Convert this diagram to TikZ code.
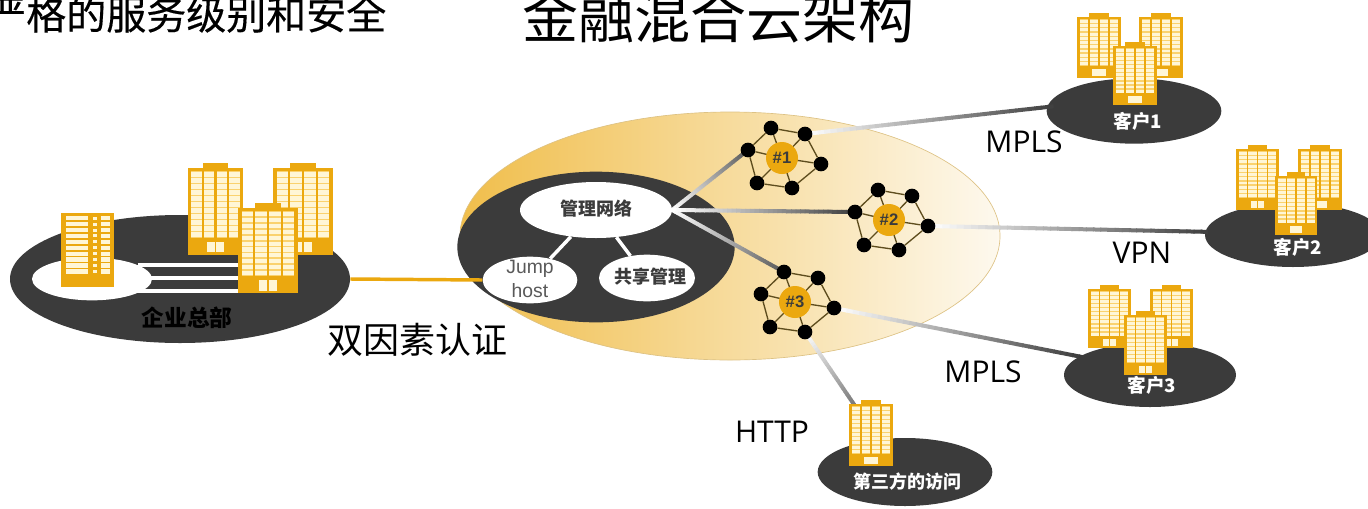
\documentclass[tikz,border=0pt]{standalone}
\usepackage{fontspec}
\setmainfont{Noto Sans CJK SC}
\newfontfamily\heavycjk[FakeBold=0.35]{Noto Sans CJK SC}
\newfontfamily\latinfont{Open Sans}
\newfontfamily\arialfont{Liberation Sans}
\usetikzlibrary{shapes.geometric,calc}

\definecolor{bldgorange}{HTML}{EBA80F}
\definecolor{bldgwindow}{HTML}{FFF6D6}
\definecolor{bldggrout}{HTML}{FAD26E}
\definecolor{discdark}{HTML}{3B3B3B}
\definecolor{spokecolor}{HTML}{5E4D1E}

\pgfdeclarelayer{front}
\pgfsetlayers{main,front}

\tikzset{
  disc/.style={ellipse,fill=discdark,inner sep=0pt},
  whitedisc/.style={ellipse,fill=white,inner sep=0pt},
  hubdot/.style={circle,fill=black,inner sep=0pt,minimum size=11pt},
  hubcore/.style={circle,fill=bldgorange,inner sep=0pt,minimum size=24pt,font=\arialfont\bfseries\fontsize{12.5}{14}\selectfont,text=discdark},
  spoke/.style={draw=spokecolor,line width=1pt},
  darklabel/.style={font=\bfseries\fontsize{13.5}{16}\selectfont,text=discdark},
  sitelabel/.style={font=\bfseries\fontsize{14}{16}\selectfont,text=white},
  bigcjk/.style={font=\fontsize{27}{32}\selectfont},
  proto/.style={font=\latinfont\fontsize{22.5}{26}\selectfont},
}

% fading connector between two named points
\newcommand\fadeline[5]{
  \foreach \i in {0,...,39}{
    \pgfmathsetmacro\ta{\i/40}
    \pgfmathsetmacro\tb{(\i+1.15)/40}
    \pgfmathsetmacro\pct{100-\i*100/39}
    \draw[line width=#5,color=#3!\pct!#4] ($(#1)!\ta!(#2)$) -- ($(#1)!\tb!(#2)$);
  }
}

% office tower, drawn in a 100x100 box
\newcommand\tower[4]{
  \begin{scope}[shift={(#1,#2)},x=#3*0.0075pt,y=#4*0.0075pt]
    \fill[bldgorange] (0,0) rectangle (100,100);
    \fill[bldgorange] (28,-6) rectangle (72,0);
    \foreach \c in {0,1,2,3}{
      \fill[bldggrout] (6+\c*23,4) rectangle (25+\c*23,80);
      \foreach \r in {0,...,10}{
        \fill[bldgwindow] (6+\c*23,5+\r*6.9) rectangle (25+\c*23,9.8+\r*6.9);
      }
    }
    \fill[bldgwindow] (35,85) rectangle (49,97);
    \fill[bldgwindow] (51,85) rectangle (65,97);
  \end{scope}
}

% the plain tower on the left of the head office
\newcommand\slabtower[4]{
  \begin{scope}[shift={(#1,#2)},x=#3*0.0075pt,y=#4*0.0075pt]
    \fill[bldgorange] (0,0) rectangle (100,100);
    \foreach \r in {0,...,9}{
      \fill[bldgwindow] (9,4+\r*8) rectangle (50,10+\r*8);
      \fill[bldgwindow] (60,5+\r*8) rectangle (68,9+\r*8);
      \fill[bldgwindow] (75,4+\r*8) rectangle (92,10+\r*8);
    }
  \end{scope}
}

% ring of six dots round a numbered core
\newcommand\hubnet[4]{
  \begin{scope}[shift={(#2,#3)}]
    \coordinate (#1c) at (0,0);
    \node[hubdot] (#1a) at (-11,-30) {};
    \node[hubdot] (#1b) at (23,-24) {};
    \node[hubdot] (#1d) at (39,6) {};
    \node[hubdot] (#1e) at (10,30) {};
    \node[hubdot] (#1f) at (-25,25) {};
    \node[hubdot] (#1g) at (-34,-8) {};
    \foreach \p/\q in {a/b,b/d,d/e,e/f,f/g,g/a}{
      \draw[spoke] (#1\p) -- (#1\q);
    }
    \foreach \p in {a,b,d,e,f,g}{
      \draw[spoke] (#1c) -- (#1\p);
    }
    \node[hubcore] (#1) at (0,0) {#4};
  \end{scope}
}

\begin{document}
\begin{tikzpicture}[x=0.75pt,y=0.75pt,yscale=-1,xscale=1]
\useasboundingbox (0,0) rectangle (1368,508);

% Big cloud
\node[ellipse,inner sep=0pt,minimum width=405pt,minimum height=186pt,draw=bldgorange!45!white!90!black,line width=0.5pt,
  left color=bldgorange!75,middle color=bldgorange!38,right color=bldgorange!7] (cloud) at (730,236) {};
\node[disc,minimum width=208pt,minimum height=113pt] (mgmtzone) at (596,247) {};

% Sites
\node[disc,minimum width=255pt,minimum height=96pt] (hq) at (180,279) {};
\node[disc,minimum width=131pt,minimum height=49pt] (site1) at (1134,111) {};
\node[disc,minimum width=132pt,minimum height=48pt] (site2) at (1293,235) {};
\node[disc,minimum width=129pt,minimum height=48pt] (site3) at (1150,375) {};
\node[disc,minimum width=131pt,minimum height=51pt] (guest) at (905,472) {};
\coordinate (site1port) at (1060,105.6);
\coordinate (site2port) at (1215,232);
\coordinate (site3port) at (1085,357.6);

% Head office court
\node[whitedisc,minimum width=90pt,minimum height=32pt] (court) at (92,279) {};
\coordinate (barstart) at (138,278);
\coordinate (barend) at (245,278);
\foreach \yy in {-13,0,13}{
  \draw[white,line width=3.4pt] ($(barstart)+(0,\yy)$) -- ($(barend)+(0,\yy)$);
}

% Management ovals
\node[whitedisc,minimum width=114pt,minimum height=42pt] (mgmt) at (596,210) {};
\node[whitedisc,minimum width=71pt,minimum height=35pt] (jump) at (530,280) {};
\node[whitedisc,minimum width=72pt,minimum height=35pt] (share) at (647,278) {};
\draw[white,line width=2.6pt] (mgmt) -- (jump);
\draw[white,line width=2.6pt] (mgmt) -- (share);

% Hubs
\begin{pgfonlayer}{front}
\hubnet{hubone}{782}{158}{\#1}
\hubnet{hubtwo}{889}{220}{\#2}
\hubnet{hubthree}{795}{302}{\#3}
\end{pgfonlayer}

% Connectors
\draw[bldgorange,line width=2.6pt] (hq.east) -- (jump.west);
\fadeline{mgmt.east}{huboneg}{white}{black!65}{3pt}
\fadeline{mgmt.east}{hubtwog}{white}{black!75}{3pt}
\fadeline{mgmt.east}{hubthreea}{white}{black!65}{3pt}
\fadeline{huboneb}{site1port}{white}{discdark}{3pt}
\fadeline{hubtwod}{site2port}{white}{discdark}{3pt}
\fadeline{hubthreed}{site3port}{white}{discdark}{3pt}
\fadeline{hubthreee}{guest.130}{white}{discdark}{3pt}

% Towers
\tower{188}{168}{55}{87}
\tower{273}{168}{60}{87}
\tower{238}{208}{60}{85}
\slabtower{61}{213}{53}{74}
\tower{1077}{17}{44}{61}
\tower{1139}{17}{44}{61}
\tower{1113}{46}{44}{59}
\tower{1236}{149}{43}{61}
\tower{1298}{149}{44}{61}
\tower{1275}{176}{42}{59}
\tower{1088}{289}{43}{59}
\tower{1150}{289}{43}{59}
\tower{1124}{315}{43}{60}
\tower{849}{404}{44}{62}

% Text Node
\node[font=\fontsize{42}{48}\selectfont] (title) at (718,17) {金融混合云架构};
\node[anchor=east,font=\heavycjk\fontsize{30}{36}\selectfont] (subtitle) at (391,14) {严格的服务级别和安全};
\node[bigcjk] (twofactor) at (417,340) {双因素认证};
\node[proto] (mplsone) at (1024,142) {MPLS};
\node[proto] (vpn) at (1142,253) {VPN};
\node[proto] (mplstwo) at (983,372) {MPLS};
\node[proto] (http) at (772,432) {HTTP};
% Text Node
\node[darklabel] (mgmttext) at (596,209) {管理网络};
\node[darklabel] (sharetext) at (650,277) {共享管理};
\node[font=\arialfont\fontsize{14.5}{16}\selectfont,text=black!65] (jumptext) at (530,269) {Jump};
\node[font=\arialfont\fontsize{14.5}{16}\selectfont,text=black!65] (hosttext) at (530,291) {host};
\node[font=\bfseries\fontsize{17}{20}\selectfont] (hqtext) at (187,318) {企业总部};
\node[sitelabel] (siteonetext) at (1138,121) {客户1};
\node[sitelabel] (sitetwotext) at (1298,247) {客户2};
\node[sitelabel] (sitethreetext) at (1152,385) {客户3};
\node[font=\bfseries\fontsize{13.5}{16}\selectfont,text=white] (guesttext) at (907,482) {第三方的访问};

\end{tikzpicture}
\end{document}
